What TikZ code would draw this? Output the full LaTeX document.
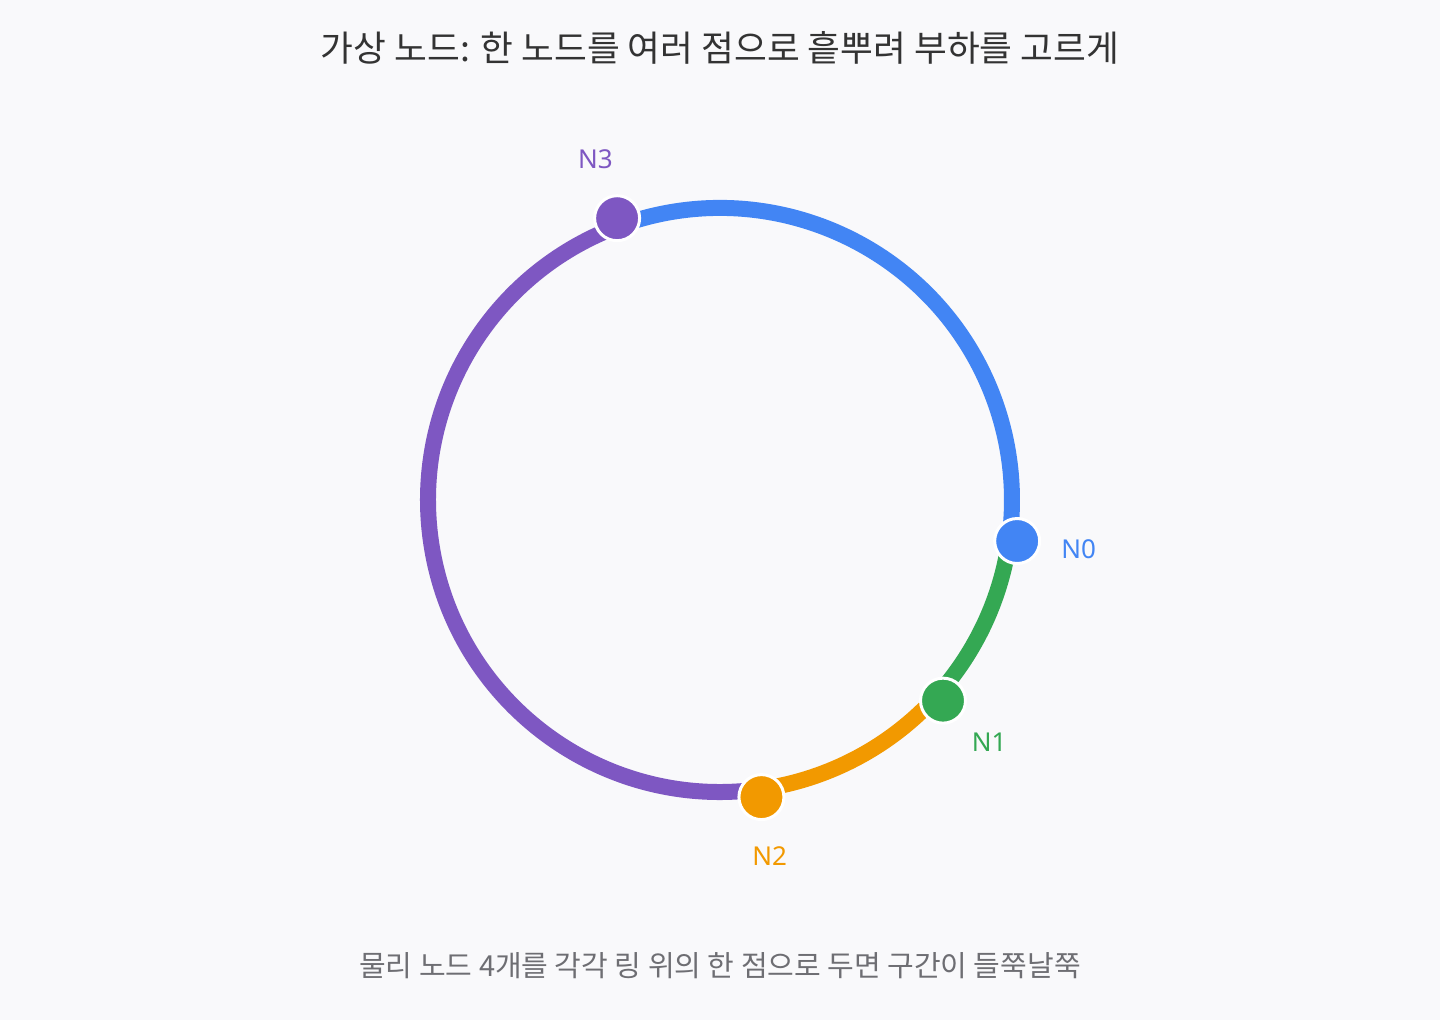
\documentclass[tikz,border=0pt]{standalone}
\usepackage{fontspec}
\setmainfont{Noto Sans}
\newfontfamily\kofont{Noto Sans CJK KR}
\usetikzlibrary{positioning,calc}

\definecolor{bgcol}{HTML}{F9F9FB}
\definecolor{nblue}{HTML}{4285F4}
\definecolor{ngreen}{HTML}{34A853}
\definecolor{norange}{HTML}{F29900}
\definecolor{npurple}{HTML}{7E57C2}
\definecolor{titlecol}{HTML}{333333}
\definecolor{notecol}{HTML}{6E6E73}

\begin{document}
\begin{tikzpicture} [x=0.75pt,y=0.75pt,
	dot/.style={circle,draw=white,line width=2.25pt,minimum size=33.75pt,inner sep=0pt},
	seg/.style={line width=12pt},
	lbl/.style={font=\fontsize{19.5}{22}\selectfont},
	every node/.style={align=center}]
	\fill[bgcol] (0,0) rectangle (1440,1020);
	\useasboundingbox (0,0) rectangle (1440,1020);
	\coordinate (c) at (720,520);
	% title and note
	\node[font=\kofont\fontsize{26.75}{30}\selectfont,text=titlecol] (title) at (720,972) {가상 노드: 한 노드를 여러 점으로 흩뿌려 부하를 고르게};
	\node[font=\kofont\fontsize{21.75}{24}\selectfont,text=notecol] (note) at (720,54) {물리 노드 4개를 각각 링 위의 한 점으로 두면 구간이 들쭉날쭉};
	% points on the ring
	\path (c) ++(-7.86:292) coordinate (p0);
	\path (c) ++(-41.98:292) coordinate (p1);
	\path (c) ++(-82.06:292) coordinate (p2);
	\path (c) ++(110.06:292) coordinate (p3);
	% ring segments
	\draw[seg,nblue] (p3) arc[start angle=110.06,end angle=-7.86,radius=292];
	\draw[seg,ngreen] (p0) arc[start angle=-7.86,end angle=-41.98,radius=292];
	\draw[seg,norange] (p1) arc[start angle=-41.98,end angle=-82.06,radius=292];
	\draw[seg,npurple] (p2) arc[start angle=-82.06,end angle=-249.94,radius=292];
	% nodes
	\node[dot,fill=nblue] (n0) at ($(c)+(-7.86:300)$) {};
	\node[dot,fill=ngreen] (n1) at ($(c)+(-41.98:300)$) {};
	\node[dot,fill=norange] (n2) at ($(c)+(-82.06:300)$) {};
	\node[dot,fill=npurple] (n3) at ($(c)+(110.06:300)$) {};
	\node[lbl,text=nblue] (l0) at ($(c)+(-7.86:362)$) {N0};
	\node[lbl,text=ngreen] (l1) at ($(c)+(-41.98:362)$) {N1};
	\node[lbl,text=norange] (l2) at ($(c)+(-82.06:360)$) {N2};
	\node[lbl,text=npurple] (l3) at ($(c)+(110.06:363)$) {N3};
\end{tikzpicture}
\end{document}
